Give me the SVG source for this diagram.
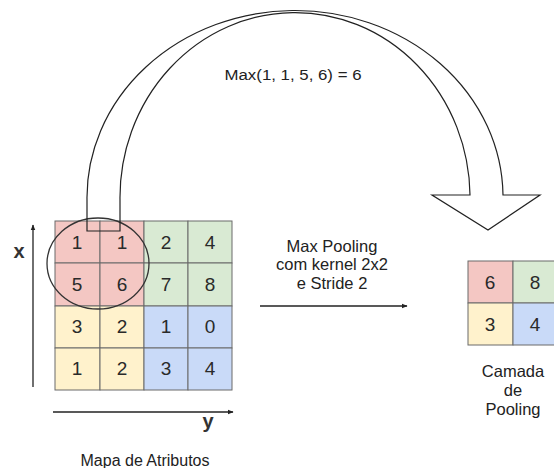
<svg xmlns="http://www.w3.org/2000/svg" width="554" height="468" viewBox="0 0 554 468">
  <defs>
    <marker id="head" viewBox="0 0 10 10" refX="9" refY="5" markerWidth="6" markerHeight="6" orient="auto" markerUnits="userSpaceOnUse">
      <path d="M0,1 L10,5 L0,9 Z" fill="#222"/>
    </marker>
    <style>
      .cell { stroke: #6b6b6b; stroke-width: 1; }
      .r { fill: #f4c7c3; }
      .g { fill: #d9ead3; }
      .yl { fill: #fff2cc; }
      .b { fill: #c9daf8; }
      .num { font-family: "Liberation Sans", Arial, sans-serif; font-size: 19px; fill: #2a2a2a; text-anchor: middle; }
      .lbl { font-family: "Liberation Sans", Arial, sans-serif; font-size: 16px; fill: #222; text-anchor: middle; }
      .axis { stroke: #222; stroke-width: 1.3; fill: none; }
    </style>
  </defs>
  <rect width="554" height="468" fill="#ffffff"/>

  <!-- feature map 4x4 -->
  <g id="feature-map">
    <rect class="cell r" x="55" y="221" width="45" height="42"/>
    <rect class="cell r" x="100" y="221" width="44" height="42"/>
    <rect class="cell g" x="144" y="221" width="44" height="42"/>
    <rect class="cell g" x="188" y="221" width="44" height="42"/>
    <rect class="cell r" x="55" y="263" width="45" height="43"/>
    <rect class="cell r" x="100" y="263" width="44" height="43"/>
    <rect class="cell g" x="144" y="263" width="44" height="43"/>
    <rect class="cell g" x="188" y="263" width="44" height="43"/>
    <rect class="cell yl" x="55" y="306" width="45" height="42"/>
    <rect class="cell yl" x="100" y="306" width="44" height="42"/>
    <rect class="cell b" x="144" y="306" width="44" height="42"/>
    <rect class="cell b" x="188" y="306" width="44" height="42"/>
    <rect class="cell yl" x="55" y="348" width="45" height="42"/>
    <rect class="cell yl" x="100" y="348" width="44" height="42"/>
    <rect class="cell b" x="144" y="348" width="44" height="42"/>
    <rect class="cell b" x="188" y="348" width="44" height="42"/>
    <text class="num" x="77" y="249">1</text>
    <text class="num" x="122" y="249">1</text>
    <text class="num" x="166" y="249">2</text>
    <text class="num" x="210" y="249">4</text>
    <text class="num" x="77" y="291">5</text>
    <text class="num" x="122" y="291">6</text>
    <text class="num" x="166" y="291">7</text>
    <text class="num" x="210" y="291">8</text>
    <text class="num" x="77" y="333">3</text>
    <text class="num" x="122" y="333">2</text>
    <text class="num" x="166" y="333">1</text>
    <text class="num" x="210" y="333">0</text>
    <text class="num" x="77" y="375">1</text>
    <text class="num" x="122" y="375">2</text>
    <text class="num" x="166" y="375">3</text>
    <text class="num" x="210" y="375">4</text>
    <ellipse cx="98" cy="263.5" rx="51" ry="45.5" fill="none" stroke="#333" stroke-width="1.3"/>
    <text class="lbl" x="145" y="466">Mapa de Atributos</text>
  </g>

  <!-- axes -->
  <g id="axes">
    <line class="axis" x1="33" y1="387" x2="33" y2="225" marker-end="url(#head)"/>
    <line class="axis" x1="53" y1="412" x2="233" y2="412" marker-end="url(#head)"/>
    <text x="19" y="258" font-family="Liberation Sans, Arial, sans-serif" font-size="20" font-weight="bold" fill="#333" text-anchor="middle">x</text>
    <text x="208" y="428" font-family="Liberation Sans, Arial, sans-serif" font-size="20" font-weight="bold" fill="#333" text-anchor="middle">y</text>
  </g>

  <!-- pooled output 2x2 -->
  <g id="pooling-layer">
    <rect class="cell r" x="468" y="261" width="45" height="42"/>
    <rect class="cell g" x="513" y="261" width="45" height="42"/>
    <rect class="cell yl" x="468" y="303" width="45" height="42"/>
    <rect class="cell b" x="513" y="303" width="45" height="42"/>
    <text class="num" x="490" y="289">6</text>
    <text class="num" x="535" y="289">8</text>
    <text class="num" x="490" y="331">3</text>
    <text class="num" x="535" y="331">4</text>
    <text class="lbl" x="513" y="377" style="font-size:16.5px">Camada</text>
    <text class="lbl" x="513" y="396" style="font-size:16.5px">de</text>
    <text class="lbl" x="513" y="415" style="font-size:16.5px">Pooling</text>
  </g>

  <g id="connectors">
    <!-- curved block arrow from the pooling window to the output -->
    <path d="M87,231 L87,200 A208,187 0 0 1 503,195 L540,195 L488,230 L432,195 L470,195 A175,185 0 0 0 120,200 L120,231 Z" fill="none" stroke="#222" stroke-width="1.2" stroke-linejoin="miter"/>
    <!-- straight operation arrow -->
    <line class="axis" x1="260" y1="306" x2="407" y2="306" marker-end="url(#head)"/>
  </g>

  <g id="labels">
    <text x="293" y="80" font-family="Liberation Sans, Arial, sans-serif" font-size="15.5" fill="#222" text-anchor="middle" textLength="137" lengthAdjust="spacingAndGlyphs">Max(1, 1, 5, 6) = 6</text>
    <text class="lbl" x="332" y="252" style="font-size:16.5px">Max Pooling</text>
    <text class="lbl" x="332" y="270" style="font-size:16.5px">com kernel 2x2</text>
    <text class="lbl" x="332" y="289" style="font-size:16.5px">e Stride 2</text>
  </g>
</svg>
